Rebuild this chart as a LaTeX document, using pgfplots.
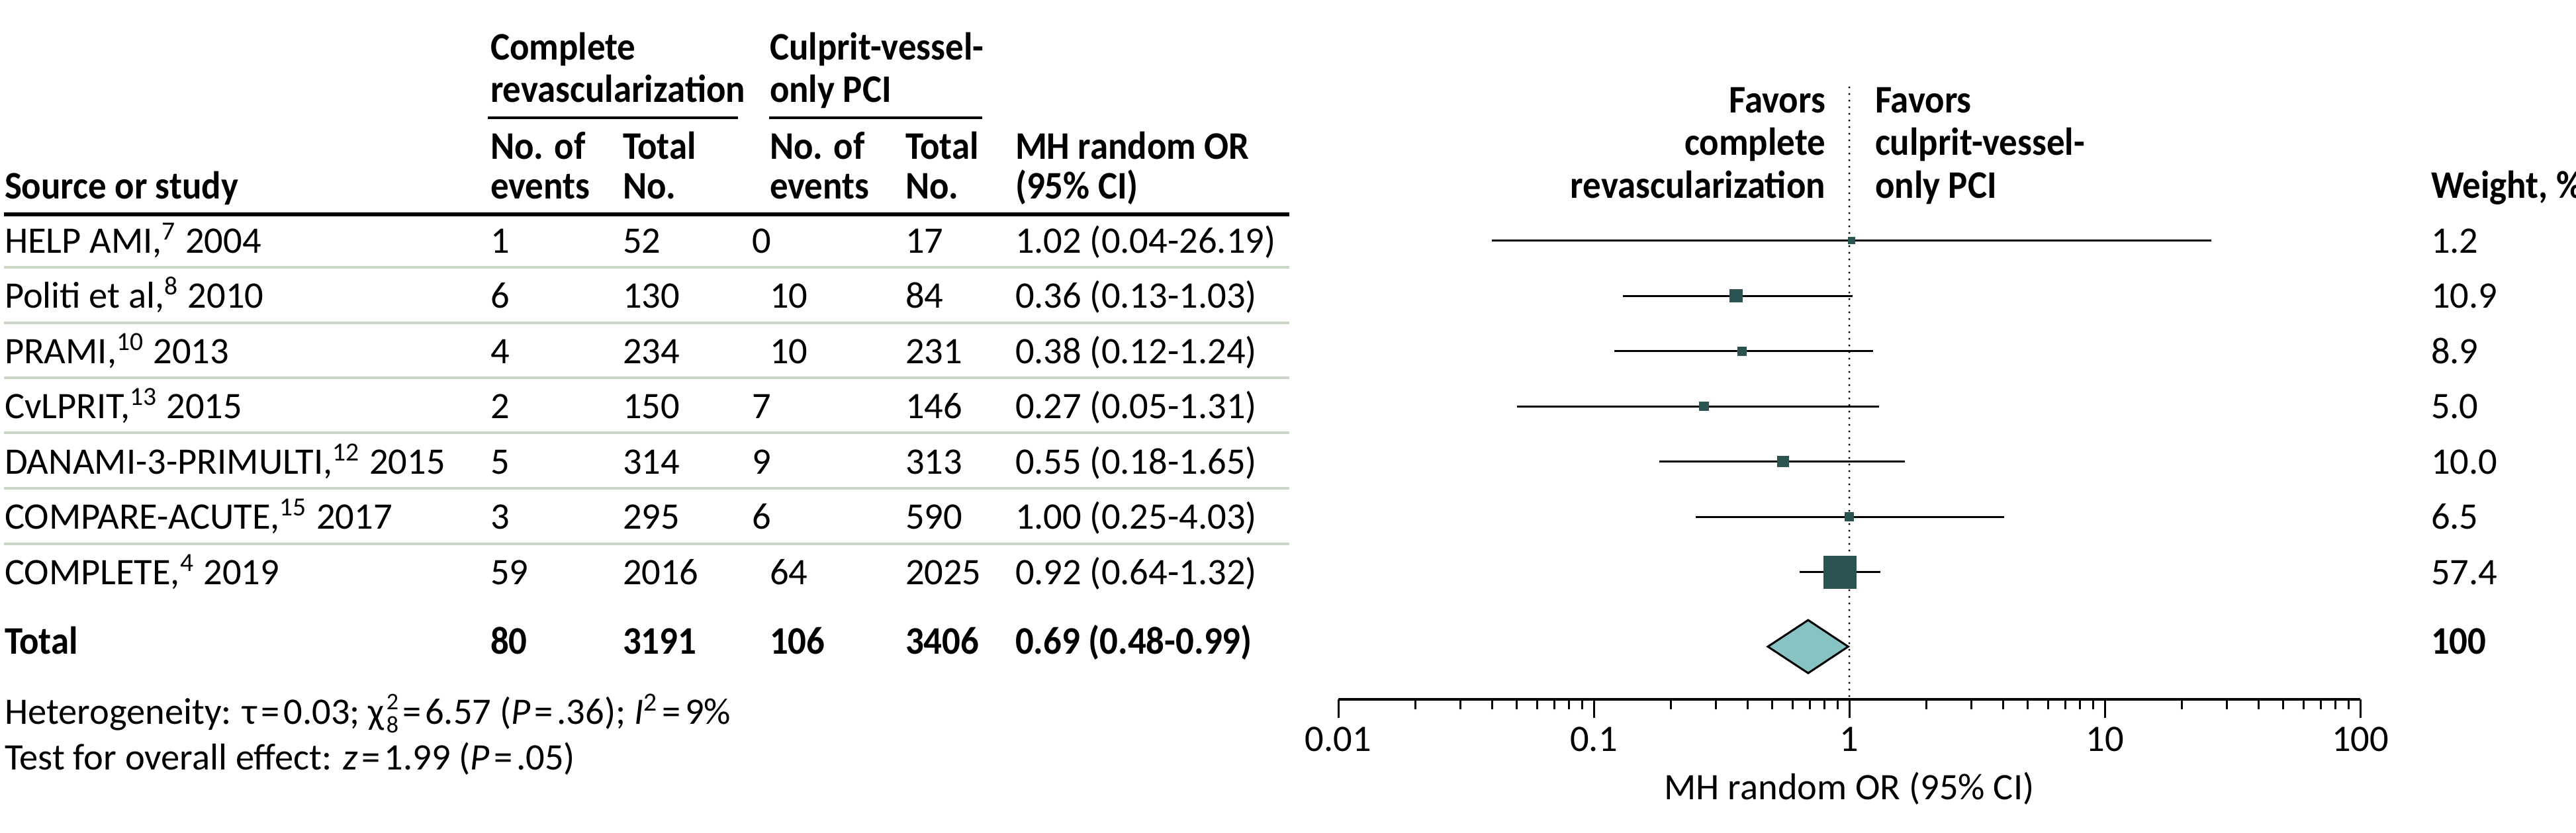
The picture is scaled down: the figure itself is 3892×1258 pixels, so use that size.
\documentclass[border=0pt]{standalone}
\usepackage{fontspec}
\setmainfont{Carlito}[BoldFeatures={FakeStretch=0.93}]
\usepackage{pgfplots}
\pgfplotsset{compat=1.18}
\definecolor{mk}{HTML}{2B5351}
\definecolor{dia}{HTML}{87C3C2}
\definecolor{sepc}{HTML}{C9D6C6}
\newcommand{\fs}{\fontsize{11.3}{13}\selectfont}
\newcommand{\fb}{\fontsize{11.8}{13}\selectfont\bfseries}
\newcommand{\eq}{\kern1.2pt=\kern1.2pt}
\newcommand{\supsub}[2]{\kern0.6pt\raisebox{-2.6pt}{\fontsize{7.2}{6.6}\selectfont\begin{tabular}[b]{@{}l@{}}#1\\#2\end{tabular}}}
\begin{document}
\begin{tikzpicture}[x=0.2pt,y=-0.2pt]
\tikzset{tx/.style={anchor=base west,inner sep=0pt,font=\fs},
         bx/.style={anchor=base west,inner sep=0pt,font=\fb},
         tr/.style={anchor=base east,inner sep=0pt,font=\fb}}
% ---------- table header ----------
\node[bx] at (740,90) {Complete};
\node[bx] at (740,154) {revascularization};
\node[bx] at (1162,90) {Culprit-vessel-};
\node[bx] at (1162,154) {only PCI};
\draw[line width=0.8pt] (737,178) -- (1115,178);
\draw[line width=0.8pt] (1162,178) -- (1484,178);
\node[bx] at (740,240) {No. of};
\node[bx] at (740,300) {events};
\node[bx] at (940,240) {Total};
\node[bx] at (940,300) {No.};
\node[bx] at (1162,240) {No. of};
\node[bx] at (1162,300) {events};
\node[bx] at (1367,240) {Total};
\node[bx] at (1367,300) {No.};
\node[bx] at (1533,240) {MH random OR};
\node[bx] at (1533,300) {(95\% CI)};
\node[bx] at (6,300) {Source or study};
\draw[line width=1.1pt] (6,324) -- (1948,324);
% ---------- separators ----------
\foreach \s in {404,488,571,654,738,822}{\draw[sepc,line width=0.7pt] (6,\s) -- (1948,\s);}
% ---------- rows ----------
\foreach \y/\nm/\a/\b/\cx/\c/\d/\o/\w in {
 382/{HELP AMI,\textsuperscript{7} 2004}/1/52/1135/0/17/{1.02 (0.04-26.19)}/1.2,
 465.5/{Politi et al,\textsuperscript{8} 2010}/6/130/1162/10/84/{0.36 (0.13-1.03)}/10.9,
 549/{PRAMI,\textsuperscript{10} 2013}/4/234/1162/10/231/{0.38 (0.12-1.24)}/8.9,
 632.5/{CvLPRIT,\textsuperscript{13} 2015}/2/150/1135/7/146/{0.27 (0.05-1.31)}/5.0,
 716/{DANAMI-3-PRIMULTI,\textsuperscript{12} 2015}/5/314/1135/9/313/{0.55 (0.18-1.65)}/10.0,
 799.5/{COMPARE-ACUTE,\textsuperscript{15} 2017}/3/295/1135/6/590/{1.00 (0.25-4.03)}/6.5,
 883/{COMPLETE,\textsuperscript{4} 2019}/59/2016/1162/64/2025/{0.92 (0.64-1.32)}/57.4}{
 \node[tx] at (6,\y) {\nm};
 \node[tx] at (740,\y) {\a};
 \node[tx] at (940,\y) {\b};
 \node[tx] at (\cx,\y) {\c};
 \node[tx] at (1367,\y) {\d};
 \node[tx] at (1533,\y) {\o};
 \node[tx] at (3672,\y) {\w};
}
\node[bx] at (6,988) {Total};
\node[bx] at (740,988) {80};
\node[bx] at (940,988) {3191};
\node[bx] at (1162,988) {106};
\node[bx] at (1367,988) {3406};
\node[bx] at (1533,988) {0.69 (0.48-0.99)};
\node[bx] at (3672,988) {100};
\node[tx] at (6,1094) {Heterogeneity: τ\eq0.03; χ\supsub{2}{8}\eq6.57 (\textit{P}\eq.36); \textit{I}\textsuperscript{2}\eq9\%};
\node[tx] at (6,1163) {Test for overall effect: \textit{z}\eq1.99 (\textit{P}\eq.05)};
% ---------- forest header ----------
\node[tr] at (2759,170) {Favors};
\node[tr] at (2759,234) {complete};
\node[tr] at (2759,299) {revascularization};
\node[bx] at (2832,170) {Favors};
\node[bx] at (2832,234) {culprit-vessel-};
\node[bx] at (2832,299) {only PCI};
\node[bx] at (3672,299) {Weight, \%};
% ---------- forest plot ----------
\begin{axis}[
  at={(404.4pt,-211.4pt)}, anchor=south west,
  scale only axis, width=308.8pt, height=185pt,
  xmode=log, xmin=0.01, xmax=100, ymin=-9.305, ymax=1.772,
  axis x line*=bottom, axis y line=none, clip=false,
  xtick={0.01,0.1,1,10,100}, xticklabels={0.01,0.1,1,10,100},
  minor xtick={0.02,0.03,0.04,0.05,0.06,0.07,0.08,0.09,0.2,0.3,0.4,0.5,0.6,0.7,0.8,0.9,2,3,4,5,6,7,8,9,20,30,40,50,60,70,80,90},
  tick align=outside, major tick length=5.6pt, minor tick length=3pt,
  tick style={black,line width=0.6pt},
  x axis line style={line width=0.9pt},
  xticklabel style={anchor=base,font=\fs,yshift=-10pt},
  every axis x label/.style={at={(axis description cs:0.5,0)},anchor=base,yshift=-30.2pt,font=\fs},
  xlabel={MH random OR (95\% CI)},
]
% CI lines
\addplot[black,line width=0.6pt] coordinates {(0.04,-1) (26.19,-1)};
\addplot[black,line width=0.6pt] coordinates {(0.13,-2) (1.03,-2)};
\addplot[black,line width=0.6pt] coordinates {(0.12,-3) (1.24,-3)};
\addplot[black,line width=0.6pt] coordinates {(0.05,-4) (1.31,-4)};
\addplot[black,line width=0.6pt] coordinates {(0.18,-5) (1.65,-5)};
\addplot[black,line width=0.6pt] coordinates {(0.25,-6) (4.03,-6)};
\addplot[black,line width=0.6pt] coordinates {(0.64,-7) (1.32,-7)};
% point estimates (square size by weight)
\addplot[only marks,mark=square*,mark size=1.0pt,mark options={fill=mk,draw=mk,line width=0pt}] coordinates {(1.02,-1)};
\addplot[only marks,mark=square*,mark size=1.9pt,mark options={fill=mk,draw=mk,line width=0pt}] coordinates {(0.36,-2)};
\addplot[only marks,mark=square*,mark size=1.3pt,mark options={fill=mk,draw=mk,line width=0pt}] coordinates {(0.38,-3)};
\addplot[only marks,mark=square*,mark size=1.35pt,mark options={fill=mk,draw=mk,line width=0pt}] coordinates {(0.27,-4)};
\addplot[only marks,mark=square*,mark size=1.65pt,mark options={fill=mk,draw=mk,line width=0pt}] coordinates {(0.55,-5)};
\addplot[only marks,mark=square*,mark size=1.25pt,mark options={fill=mk,draw=mk,line width=0pt}] coordinates {(1.00,-6)};
\addplot[only marks,mark=square*,mark size=4.9pt,mark options={fill=mk,draw=mk,line width=0pt}] coordinates {(0.92,-7)};
% pooled diamond
\addplot[fill=dia,draw=black,line width=0.6pt] coordinates {(0.48,-8.35) (0.69,-7.87) (0.99,-8.35) (0.69,-8.83)} -- cycle;
% line of no effect
\addplot[black,line width=0.65pt,line cap=round,dash pattern=on 0pt off 2pt] coordinates {(1,1.772) (1,-9.305)};
\end{axis}
\pgfresetboundingbox
\path[use as bounding box] (0,0) rectangle (3892,1258);
\end{tikzpicture}
\end{document}
